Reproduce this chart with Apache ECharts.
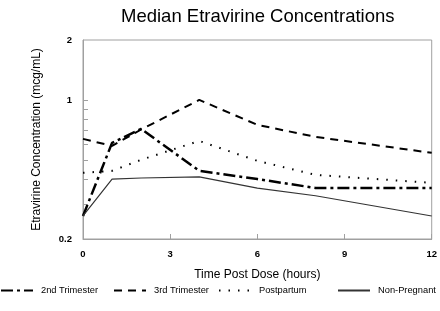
<!DOCTYPE html>
<html>
<head>
<meta charset="utf-8">
<script src="https://cdn.jsdelivr.net/npm/echarts@6/dist/echarts.min.js"></script>
<style>
  html, body { margin: 0; padding: 0; background: #fff; }
  #main { width: 440px; height: 311px; }
</style>
</head>
<body>
<div id="main"></div>
<script>
// hours post dose
var hours = [0, 1, 2, 4, 6, 8, 12];
// median concentrations (mcg/mL)
var secondTrimester = [0.261, 0.608, 0.715, 0.44, 0.40, 0.361, 0.361];
var thirdTrimester = [0.637, 0.587, 0.71, 1.0, 0.749, 0.652, 0.542];
var postpartum = [0.43, 0.44, 0.5, 0.622, 0.494, 0.42, 0.383];
var nonPregnant = [0.261, 0.40, 0.405, 0.41, 0.36, 0.33, 0.261];

var xTicks = [0, 3, 6, 9, 12];
var yLabels = [0.2, 1, 2];
var yMinorTicks = [0.3, 0.4, 0.5, 0.6, 0.7, 0.8, 0.9, 1];

var font = 'Liberation Sans, Arial, sans-serif';

function pairs(ys) {
  return hours.map(function (h, i) { return [h, ys[i]]; });
}

var chartDom = document.getElementById('main');
var myChart = echarts.init(chartDom, null, { renderer: 'canvas' });

var names = ['2nd Trimester', '3rd Trimester', 'Postpartum', 'Non-Pregnant'];
var legendLeft = [0, 113, 218, 337];

var option = {
  animation: false,
  backgroundColor: '#fff',
  title: {
    text: 'Median Etravirine Concentrations',
    left: 116,
    top: 2,
    textStyle: { fontFamily: font, fontSize: 18.5, fontWeight: 'normal', color: '#000' }
  },
  legend: names.map(function (n, i) {
    return {
      data: [n],
      left: legendLeft[i],
      top: 286,
      padding: 0,
      itemWidth: 32,
      itemHeight: 10,
      itemGap: 0,
      itemStyle: { opacity: 0 },
      textStyle: { fontFamily: font, fontSize: 9.3, color: '#000', padding: [0, 0, 0, 3] }
    };
  }),
  grid: {
    left: 83,
    right: 7,
    top: 40,
    bottom: 72,
    show: true,
    borderColor: '#a0a0a0',
    borderWidth: 1
  },
  xAxis: {
    type: 'value',
    min: 0,
    max: 12,
    interval: 3,
    name: 'Time Post Dose (hours)',
    nameLocation: 'middle',
    nameGap: 30,
    nameTextStyle: { fontFamily: font, fontSize: 12, color: '#000' },
    axisLine: { show: true, lineStyle: { color: '#a0a0a0' } },
    axisTick: { show: true, inside: true, length: 5, lineStyle: { color: '#a0a0a0' } },
    axisLabel: { fontFamily: font, fontSize: 9.5, fontWeight: 'bold', color: '#000', margin: 10,
      customValues: xTicks },
    splitLine: { show: false }
  },
  yAxis: {
    type: 'log',
    logBase: 10,
    min: 0.2,
    max: 2,
    name: 'Etravirine Concentration (mcg/mL)',
    nameLocation: 'middle',
    nameGap: 40,
    nameTextStyle: { fontFamily: font, fontSize: 12, color: '#000' },
    axisLine: { show: true, lineStyle: { color: '#a0a0a0' } },
    axisTick: { show: true, inside: true, length: 5, lineStyle: { color: '#a0a0a0' },
      customValues: yMinorTicks },
    axisLabel: { fontFamily: font, fontSize: 9.5, fontWeight: 'bold', color: '#000', margin: 11,
      customValues: yLabels },
    splitLine: { show: false },
    minorTick: { show: false }
  },
  series: [
    {
      name: names[0], type: 'line', symbol: 'none', data: pairs(secondTrimester),
      lineStyle: { color: '#000', width: 2.5, type: [12, 4, 3, 4] },
      itemStyle: { color: '#000' }
    },
    {
      name: names[1], type: 'line', symbol: 'none', data: pairs(thirdTrimester),
      lineStyle: { color: '#000', width: 2, type: [8, 6] },
      itemStyle: { color: '#000' }
    },
    {
      name: names[2], type: 'line', symbol: 'none', data: pairs(postpartum),
      lineStyle: { color: '#000', width: 2, type: [1.5, 8] },
      itemStyle: { color: '#000' }
    },
    {
      name: names[3], type: 'line', symbol: 'none', data: pairs(nonPregnant),
      lineStyle: { color: '#333', width: 1.2, type: 'solid' },
      itemStyle: { color: '#333' }
    }
  ]
};

option && myChart.setOption(option);
</script>
</body>
</html>
